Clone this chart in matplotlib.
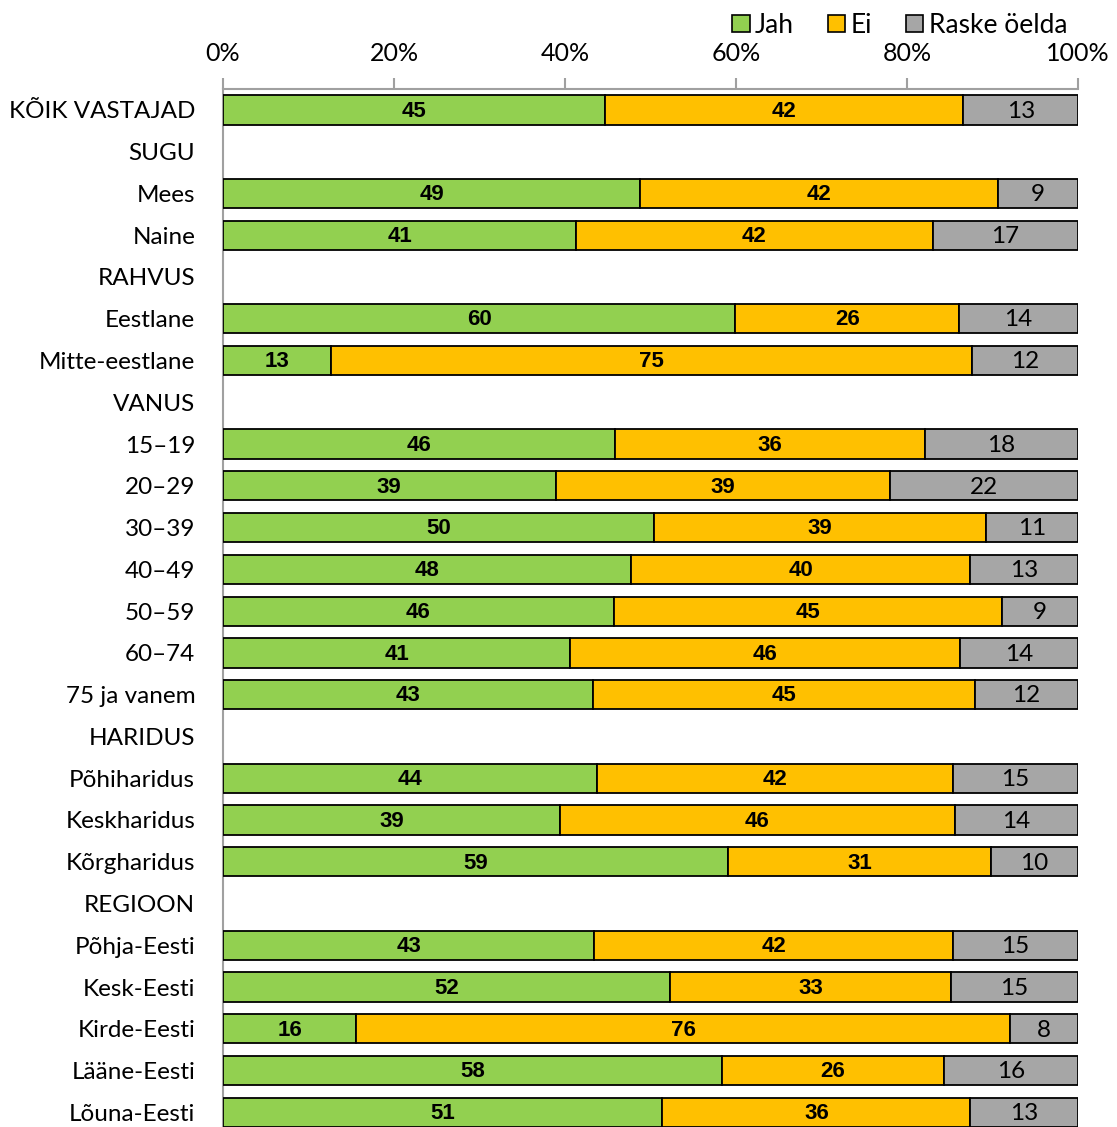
import matplotlib.pyplot as plt
from matplotlib.patches import Patch
import numpy as np

categories = ['KÕIK VASTAJAD', 'SUGU', 'Mees', 'Naine', 'RAHVUS', 'Eestlane',
              'Mitte-eestlane', 'VANUS', '15–19', '20–29', '30–39', '40–49',
              '50–59', '60–74', '75 ja vanem', 'HARIDUS', 'Põhiharidus',
              'Keskharidus', 'Kõrgharidus', 'REGIOON', 'Põhja-Eesti',
              'Kesk-Eesti', 'Kirde-Eesti', 'Lääne-Eesti', 'Lõuna-Eesti']

# None = group header row (no bar)
jah = [44.7, None, 48.8, 41.3, None, 59.9, 12.6, None, 45.8, 38.9, 50.4, 47.7,
       45.7, 40.6, 43.3, None, 43.7, 39.4, 59.1, None, 43.4, 52.3, 15.6, 58.4, 51.4]
ei = [41.9, None, 41.8, 41.7, None, 26.2, 75.0, None, 36.3, 39.1, 38.8, 39.7,
      45.4, 45.6, 44.6, None, 41.7, 46.2, 30.7, None, 42.0, 32.8, 76.4, 25.9, 36.0]
raske = [13.4, None, 9.4, 17.0, None, 13.9, 12.4, None, 17.9, 22.0, 10.8, 12.6,
         8.9, 13.8, 12.1, None, 14.6, 14.4, 10.2, None, 14.6, 14.9, 8.0, 15.7, 12.6]

series = ['Jah', 'Ei', 'Raske öelda']
colors = ['#92D050', '#FFC000', '#A6A6A6']

plt.rcParams['font.family'] = ['Lato', 'DejaVu Sans']

fig = plt.figure(figsize=(11.17, 11.27), dpi=100)
ax = fig.add_axes([223 / 1117, 0, 855 / 1117, 1 - 89 / 1127])

y = np.arange(len(categories))
h = 0.7
for i in range(len(categories)):
    if jah[i] is None:
        continue
    left = 0
    for k, vals in enumerate([jah, ei, raske]):
        v = vals[i]
        ax.barh(y[i], v, left=left, height=h, color=colors[k],
                edgecolor='black', linewidth=1.3, zorder=2)
        if k < 2:
            ax.text(left + v / 2, y[i] + 0.03, f'{v:.0f}', ha='center', va='center',
                    fontsize=16, fontweight='bold', family='Liberation Sans', zorder=3)
        else:
            ax.text(left + v / 2, y[i] + 0.03, f'{v:.0f}', ha='center', va='center',
                    fontsize=17.5, zorder=3)
        left += v

ax.set_xlim(0, 100)
ax.set_ylim(24.35, -0.5)
ax.set_yticks(y)
ax.set_yticklabels(categories, fontsize=17.5)
ax.tick_params(axis='y', length=0, pad=20)
ax.xaxis.tick_top()
ax.set_xticks(np.arange(0, 101, 20))
ax.set_xticklabels([f'{t}%' for t in range(0, 101, 20)], fontsize=18)
ax.tick_params(axis='x', length=8, color='#A0A0A0', width=1.5, pad=9, direction='out')
for s in ['right', 'bottom']:
    ax.spines[s].set_visible(False)
for s in ['top', 'left']:
    ax.spines[s].set_color('#A0A0A0')
    ax.spines[s].set_linewidth(1.5)
    ax.spines[s].set_zorder(1)

handles = [Patch(facecolor=c, edgecolor='black', linewidth=1.2) for c in colors]
fig.legend(handles, series, loc='upper right', bbox_to_anchor=(0.972, 1.005),
           ncol=3, frameon=False, fontsize=19, handlelength=0.65, handleheight=0.65,
           handletextpad=0.2, columnspacing=1.3, borderaxespad=0.3)

fig.savefig('out.png', dpi=100)
